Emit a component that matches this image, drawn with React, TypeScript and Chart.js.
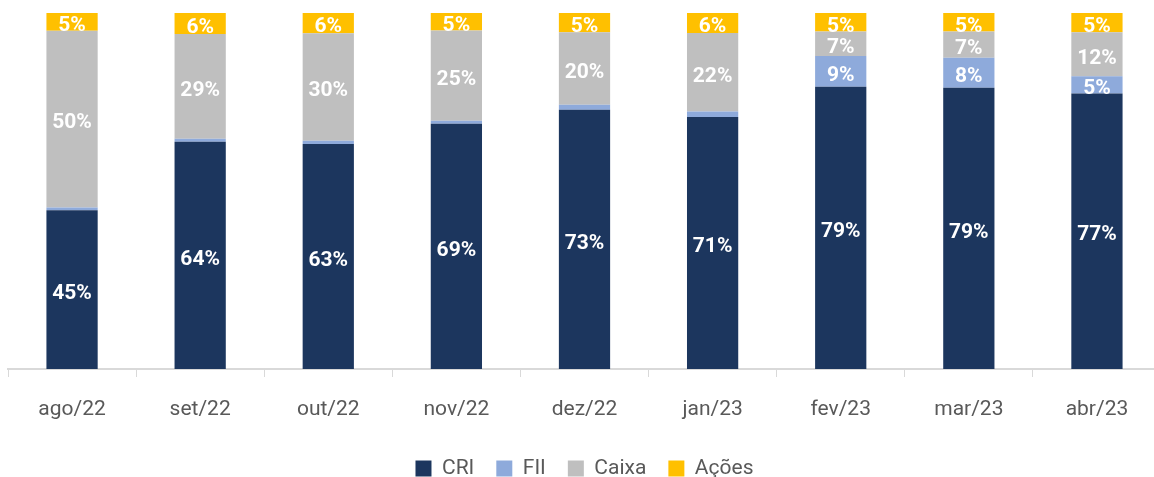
import React, { useEffect, useRef } from "react";
import { Chart, registerables } from "chart.js";

Chart.register(...registerables);

const categories = ["ago/22", "set/22", "out/22", "nov/22", "dez/22", "jan/23", "fev/23", "mar/23", "abr/23"];
const cri = [44.6, 63.8, 63.2, 68.9, 72.8, 70.8, 79.3, 79.0, 77.4];
const fii = [0.8, 0.9, 0.9, 0.8, 1.4, 1.5, 8.6, 8.4, 4.8];
const caixa = [49.6, 29.4, 30.2, 25.4, 20.4, 22.1, 6.9, 7.4, 12.4];
const acoes = [5.0, 5.9, 5.7, 4.9, 5.4, 5.6, 5.2, 5.2, 5.4];

const FONT = "Roboto, 'Noto Sans', sans-serif";

const labelPlugin = {
  id: "segLabels",
  afterDatasetsDraw(chart: any) {
    const ctx = chart.ctx;
    ctx.save();
    ctx.fillStyle = "#ffffff";
    ctx.textAlign = "center";
    ctx.textBaseline = "middle";
    chart.data.datasets.forEach((ds: any, di: number) => {
      const meta = chart.getDatasetMeta(di);
      if (meta.hidden) return;
      meta.data.forEach((el: any, i: number) => {
        const v = ds.data[i];
        if (v < 3) return;
        const y = (el.y + el.base) / 2 + 4;
        ctx.font = `bold 21px ${FONT}`;
        ctx.fillText(Math.round(v) + "%", el.x, y);
      });
    });
    ctx.restore();
  },
};

export default function App() {
  const ref = useRef<HTMLCanvasElement>(null);
  useEffect(() => {
    if (!ref.current) return;
    const chart = new Chart(ref.current, {
      type: "bar",
      data: {
        labels: categories,
        datasets: [
          { label: "CRI", data: cri, backgroundColor: "#1c365e" },
          { label: "FII", data: fii, backgroundColor: "#8eaadb" },
          { label: "Caixa", data: caixa, backgroundColor: "#bfbfbf" },
          { label: "Ações", data: acoes, backgroundColor: "#ffc000" },
        ],
      },
      options: {
        animation: false,
        responsive: false,
        maintainAspectRatio: false,
        datasets: { bar: { categoryPercentage: 1, barPercentage: 0.4 } } as any,
        layout: { padding: { top: 13, left: 8, right: 1, bottom: 0 } },
        scales: {
          x: {
            stacked: true,
            afterFit: (scale: any) => {
              scale.height = 67;
            },
            grid: {
              offset: true,
              drawOnChartArea: false,
              drawTicks: true,
              tickLength: 8,
              color: "#d9d9d9",
            },
            border: { color: "#d9d9d9", width: 2 },
            ticks: {
              color: "#595959",
              font: { family: FONT, size: 21 },
              padding: 20,
              maxRotation: 0,
            },
          },
          y: {
            stacked: true,
            display: false,
            min: 0,
            max: 100,
          },
        },
        plugins: {
          legend: {
            position: "bottom",
            labels: {
              boxWidth: 16,
              boxHeight: 16,
              padding: 22,
              color: "#595959",
              font: { family: FONT, size: 21 },
            },
          },
          tooltip: { enabled: false },
        },
      },
      plugins: [labelPlugin],
    });
    return () => chart.destroy();
  }, []);
  return (
    <div style={{ position: "fixed", left: 0, top: 0, width: 1154, height: 477, overflow: "hidden", background: "#fff" }}>
      <canvas ref={ref} width={1162} height={489} style={{ display: "block", width: 1162, height: 489 }} />
    </div>
  );
}
